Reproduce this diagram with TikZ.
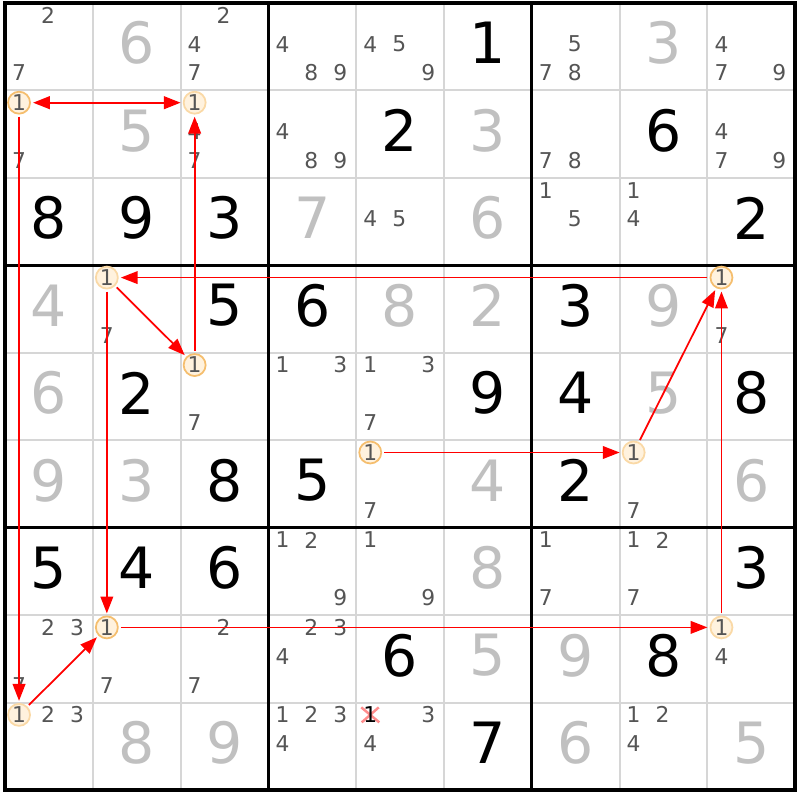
\documentclass[tikz,border=0pt]{standalone}
\usepackage{fontspec}
\setmainfont{DejaVu Sans}
\usetikzlibrary{arrows.meta}
\definecolor{candgray}{HTML}{555555}
\definecolor{placedgray}{HTML}{C0C0C0}
\definecolor{ringfill}{HTML}{FFF2DE}
\definecolor{ringdark}{HTML}{F5BE6E}
\definecolor{ringlight}{HTML}{FAD9A6}
\definecolor{gridgray}{HTML}{D6D6D6}
% pencil mark #4 in row #2, column #3
\newcommand{\candi}[4][]{\node[cand,#1] (p#2#3#4) at ({#3-1+0.16+0.33*mod(#4-1,3)},{#2-1+0.14+0.33*floor((#4-1)/3)}) {#4};}
% big digit #4 in row #2, column #3
\newcommand{\cellval}[4][given]{\node[#1] (v#2#3) at ({#3-0.5},{#2-0.54}) {#4};}
\begin{document}
\begin{tikzpicture}[x=0.878cm, y=-0.8745cm,
		cand/.style={font=\fontsize{6.2}{7}\selectfont, text=candgray, inner sep=0pt},
		on/.style={circle, draw=ringdark, fill=ringfill, line width=0.5pt, minimum size=0.22cm},
		off/.style={on, draw=ringlight},
		given/.style={font=\fontsize{16.2}{18}\selectfont, text=black, inner sep=0pt},
		placed/.style={given, text=placedgray},
		thinline/.style={gridgray, line width=0.55pt},
		thickline/.style={black, line width=0.95pt},
		link/.style={red, line width=0.5pt, -{Triangle[length=4.8pt, width=3.6pt]}, shorten <=0.6pt, shorten >=0.6pt},
		cross/.style={red!45, line width=0.7pt}]
		\useasboundingbox (-0.0569, -0.0343) rectangle (9.0547, 9.1138);
		\fill[white] (-0.0569, -0.0343) rectangle (9.0547, 9.1138);
		% grid
		\draw[thinline] (1, 0) -- (1, 9);
		\draw[thinline] (2, 0) -- (2, 9);
		\draw[thinline] (4, 0) -- (4, 9);
		\draw[thinline] (5, 0) -- (5, 9);
		\draw[thinline] (7, 0) -- (7, 9);
		\draw[thinline] (8, 0) -- (8, 9);
		\draw[thinline] (0, 1) -- (9, 1);
		\draw[thinline] (0, 2) -- (9, 2);
		\draw[thinline] (0, 4) -- (9, 4);
		\draw[thinline] (0, 5) -- (9, 5);
		\draw[thinline] (0, 7) -- (9, 7);
		\draw[thinline] (0, 8) -- (9, 8);
		\draw[thickline] (3, 0) -- (3, 9);
		\draw[thickline] (6, 0) -- (6, 9);
		\draw[thickline] (0, 3) -- (9, 3);
		\draw[thickline] (0, 6) -- (9, 6);
		\draw[thickline, line width=1.1pt] (0, 0) -- (9, 0) -- (9, 9) -- (0, 9) -- cycle;
		% row 1
		\candi{1}{1}{2} \candi{1}{1}{7}
		\cellval[placed]{1}{2}{6}
		\candi{1}{3}{2} \candi{1}{3}{4} \candi{1}{3}{7}
		\candi{1}{4}{4} \candi{1}{4}{8} \candi{1}{4}{9}
		\candi{1}{5}{4} \candi{1}{5}{5} \candi{1}{5}{9}
		\cellval{1}{6}{1}
		\candi{1}{7}{5} \candi{1}{7}{7} \candi{1}{7}{8}
		\cellval[placed]{1}{8}{3}
		\candi{1}{9}{4} \candi{1}{9}{7} \candi{1}{9}{9}
		% row 2
		\candi[on]{2}{1}{1} \candi{2}{1}{7}
		\cellval[placed]{2}{2}{5}
		\candi[off]{2}{3}{1} \candi{2}{3}{4} \candi{2}{3}{7}
		\candi{2}{4}{4} \candi{2}{4}{8} \candi{2}{4}{9}
		\cellval{2}{5}{2}
		\cellval[placed]{2}{6}{3}
		\candi{2}{7}{7} \candi{2}{7}{8}
		\cellval{2}{8}{6}
		\candi{2}{9}{4} \candi{2}{9}{7} \candi{2}{9}{9}
		% row 3
		\cellval{3}{1}{8}
		\cellval{3}{2}{9}
		\cellval{3}{3}{3}
		\cellval[placed]{3}{4}{7}
		\candi{3}{5}{4} \candi{3}{5}{5}
		\cellval[placed]{3}{6}{6}
		\candi{3}{7}{1} \candi{3}{7}{5}
		\candi{3}{8}{1} \candi{3}{8}{4}
		\cellval{3}{9}{2}
		% row 4
		\cellval[placed]{4}{1}{4}
		\candi[off]{4}{2}{1} \candi{4}{2}{7}
		\cellval{4}{3}{5}
		\cellval{4}{4}{6}
		\cellval[placed]{4}{5}{8}
		\cellval[placed]{4}{6}{2}
		\cellval{4}{7}{3}
		\cellval[placed]{4}{8}{9}
		\candi[on]{4}{9}{1} \candi{4}{9}{7}
		% row 5
		\cellval[placed]{5}{1}{6}
		\cellval{5}{2}{2}
		\candi[on]{5}{3}{1} \candi{5}{3}{7}
		\candi{5}{4}{1} \candi{5}{4}{3}
		\candi{5}{5}{1} \candi{5}{5}{3} \candi{5}{5}{7}
		\cellval{5}{6}{9}
		\cellval{5}{7}{4}
		\cellval[placed]{5}{8}{5}
		\cellval{5}{9}{8}
		% row 6
		\cellval[placed]{6}{1}{9}
		\cellval[placed]{6}{2}{3}
		\cellval{6}{3}{8}
		\cellval{6}{4}{5}
		\candi[on]{6}{5}{1} \candi{6}{5}{7}
		\cellval[placed]{6}{6}{4}
		\cellval{6}{7}{2}
		\candi[off]{6}{8}{1} \candi{6}{8}{7}
		\cellval[placed]{6}{9}{6}
		% row 7
		\cellval{7}{1}{5}
		\cellval{7}{2}{4}
		\cellval{7}{3}{6}
		\candi{7}{4}{1} \candi{7}{4}{2} \candi{7}{4}{9}
		\candi{7}{5}{1} \candi{7}{5}{9}
		\cellval[placed]{7}{6}{8}
		\candi{7}{7}{1} \candi{7}{7}{7}
		\candi{7}{8}{1} \candi{7}{8}{2} \candi{7}{8}{7}
		\cellval{7}{9}{3}
		% row 8
		\candi{8}{1}{2} \candi{8}{1}{3} \candi{8}{1}{7}
		\candi[on]{8}{2}{1} \candi{8}{2}{7}
		\candi{8}{3}{2} \candi{8}{3}{7}
		\candi{8}{4}{2} \candi{8}{4}{3} \candi{8}{4}{4}
		\cellval{8}{5}{6}
		\cellval[placed]{8}{6}{5}
		\cellval[placed]{8}{7}{9}
		\cellval{8}{8}{8}
		\candi[off]{8}{9}{1} \candi{8}{9}{4}
		% row 9
		\candi[off]{9}{1}{1} \candi{9}{1}{2} \candi{9}{1}{3}
		\cellval[placed]{9}{2}{8}
		\cellval[placed]{9}{3}{9}
		\candi{9}{4}{1} \candi{9}{4}{2} \candi{9}{4}{3} \candi{9}{4}{4}
		\draw[cross] (4.16, 8.14) +(-0.09cm, 0.075cm) -- +(0.09cm, -0.075cm);
		\draw[cross] (4.16, 8.14) +(-0.085cm, -0.075cm) -- +(0.085cm, 0.075cm);
		\candi[text=black]{9}{5}{1} \candi{9}{5}{3} \candi{9}{5}{4}
		\cellval{9}{6}{7}
		\cellval[placed]{9}{7}{6}
		\candi{9}{8}{1} \candi{9}{8}{2} \candi{9}{8}{4}
		\cellval[placed]{9}{9}{5}
		% chain
		\draw[link, line width=0.65pt, {Triangle[length=4.8pt, width=3.6pt]}-{Triangle[length=4.8pt, width=3.6pt]}] (p211) -- (p231);
		\draw[link] (p531) -- (p231);
		\draw[link] (p491) -- (p421);
		\draw[link] (p421) -- (p531);
		\draw[link] (p421) -- (p821);
		\draw[link] (p211) -- (p911);
		\draw[link] (p911) -- (p821);
		\draw[link] (p821) -- (p891);
		\draw[link] (p891) -- (p491);
		\draw[link] (p651) -- (p681);
		\draw[link] (p681) -- (p491);
\end{tikzpicture}
\end{document}
